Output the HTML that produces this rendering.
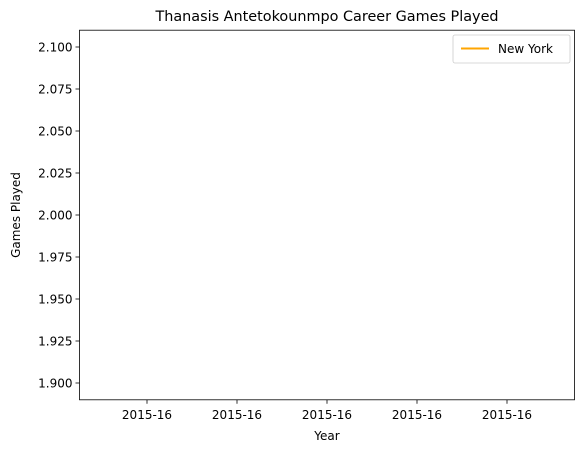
<!DOCTYPE html>
<html><head><meta charset="utf-8"><style>
body{margin:0;background:#fff;}
svg text{font-family:"DejaVu Sans","Liberation Sans",sans-serif;fill:#000;}
</style></head><body>
<svg width="588" height="453" viewBox="0 0 588 453" xmlns="http://www.w3.org/2000/svg">
<g id="ticks"></g>
<g id="series"></g>
<rect x="79.5" y="30.2" width="495" height="369.6" fill="none" stroke="#000" stroke-width="0.8"/>
<text x="327" y="21" font-size="14.4" text-anchor="middle">Thanasis Antetokounmpo Career Games Played</text>
<text x="327" y="440" font-size="12" text-anchor="middle">Year</text>
<text x="20" y="215" font-size="12" text-anchor="middle" transform="rotate(-90 20 215)">Games Played</text>
<g>
<rect x="453" y="35" width="117" height="28" rx="2" fill="#fff" stroke="#ccc" stroke-width="0.8"/>
<line x1="461" y1="48.5" x2="489" y2="48.5" stroke="#ffa500" stroke-width="2"/>
<text x="498" y="53" font-size="12">New York</text>
</g>
</svg>
<script>
const years = ["2015-16"];
const gamesPlayed = [2];
const xTickVals = [-0.04, -0.02, 0, 0.02, 0.04];
const xTickLabels = ["2015-16","2015-16","2015-16","2015-16","2015-16"];
const yTickVals = [1.9, 1.925, 1.95, 1.975, 2.0, 2.025, 2.05, 2.075, 2.1];
const NS = "http://www.w3.org/2000/svg";
const xMin=-0.055, xMax=0.055, yMin=1.89, yMax=2.11;
const L=79.5, R=574.5, T=30.2, B=399.8;
const xs = v => L + (v - xMin) / (xMax - xMin) * (R - L);
const ys = v => B - (v - yMin) / (yMax - yMin) * (B - T);
const tg = document.getElementById('ticks');
xTickVals.forEach((v,i)=>{
  const l=document.createElementNS(NS,'line');
  l.setAttribute('x1',xs(v));l.setAttribute('x2',xs(v));l.setAttribute('y1',B);l.setAttribute('y2',B+4);
  l.setAttribute('stroke','#000');l.setAttribute('stroke-width','0.8');
  
  
  tg.appendChild(l);
  const t=document.createElementNS(NS,'text');
  t.setAttribute('x',xs(v));t.setAttribute('y',B+19);t.setAttribute('font-size','12');t.setAttribute('text-anchor','middle');
  t.textContent=xTickLabels[i];
  
  
  tg.appendChild(t);
});
yTickVals.forEach(v=>{
  const l=document.createElementNS(NS,'line');
  l.setAttribute('x1',L-4);l.setAttribute('x2',L);l.setAttribute('y1',ys(v));l.setAttribute('y2',ys(v));
  l.setAttribute('stroke','#000');l.setAttribute('stroke-width','0.8');
  
  
  tg.appendChild(l);
  const t=document.createElementNS(NS,'text');
  t.setAttribute('x',L-7);t.setAttribute('y',ys(v)+4.5);t.setAttribute('font-size','12');t.setAttribute('text-anchor','end');
  t.textContent=v.toFixed(3);
  
  
  tg.appendChild(t);
});
const sg=document.getElementById('series');
const pts=gamesPlayed.map((g,i)=>xs(i-(years.length-1)/2*0)+','+ys(g)).join(' ');
const pl=document.createElementNS(NS,'polyline');
pl.setAttribute('points',pts);pl.setAttribute('fill','none');pl.setAttribute('stroke','#ffa500');pl.setAttribute('stroke-width','2');


sg.appendChild(pl);
</script>
</body></html>
